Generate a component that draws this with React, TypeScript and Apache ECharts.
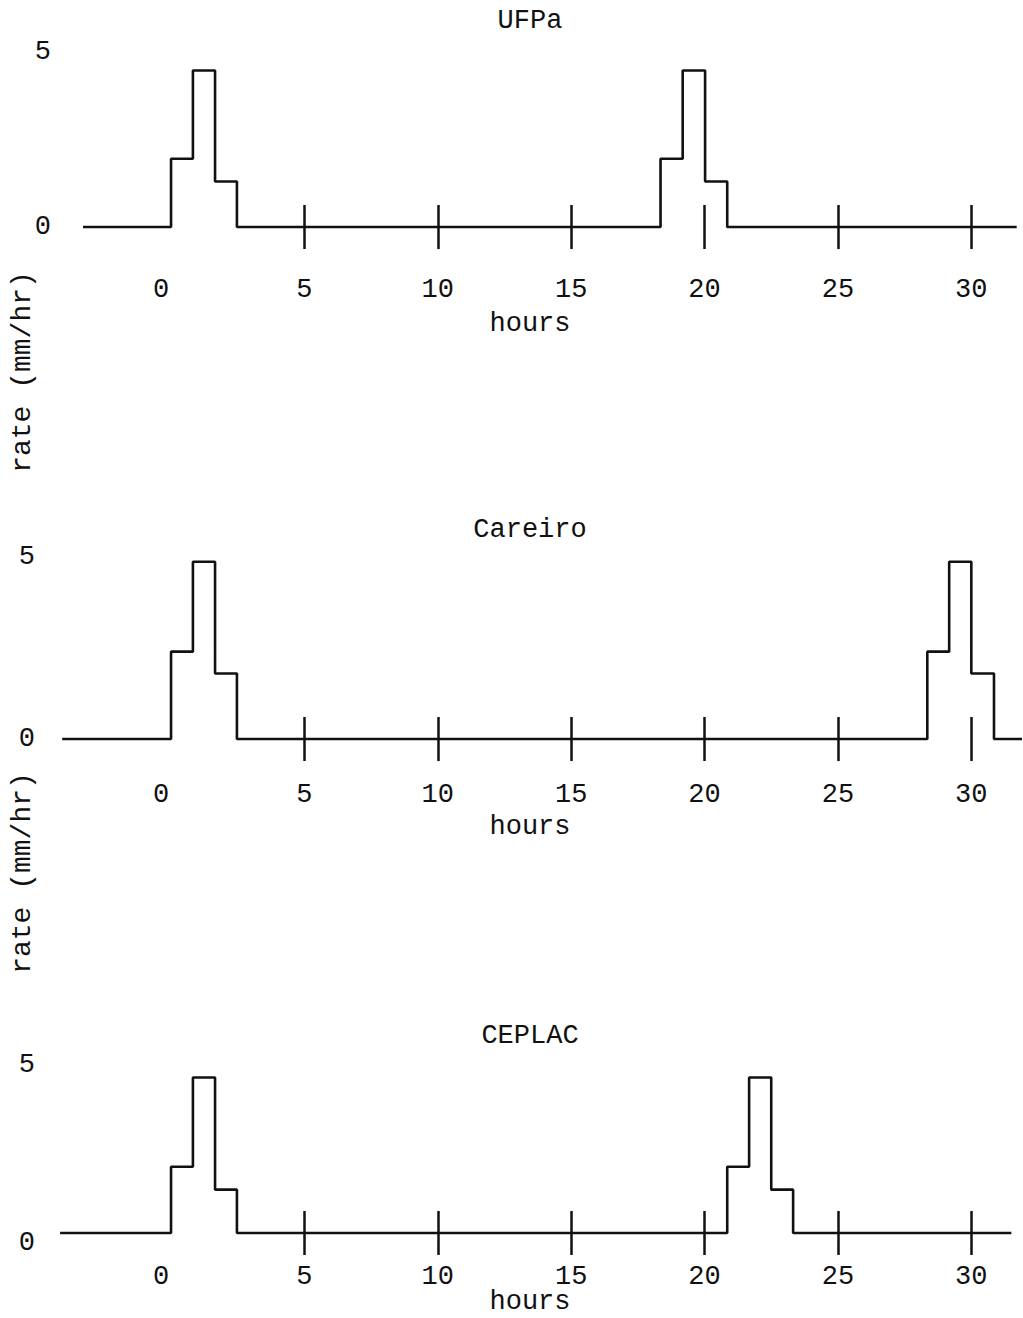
import React, { useEffect, useRef } from "react";
import * as echarts from "echarts";

// ---- data ----
const panelTitles = ["UFPa", "Careiro", "CEPLAC"];

const hoursUFPa = [-3.3, 0, 0.82, 1.65, 2.47, 18.35, 19.18, 20.02, 20.85, 31.7];
const rateUFPa = [0, 1.95, 4.47, 1.3, 0, 1.95, 4.47, 1.3, 0, 0];

const hoursCareiro = [-4.08, 0, 0.82, 1.65, 2.47, 28.35, 29.17, 30.0, 30.85, 31.9];
const rateCareiro = [0, 2.4, 4.87, 1.8, 0, 2.4, 4.87, 1.8, 0, 0];

const hoursCEPLAC = [-4.16, 0, 0.82, 1.65, 2.47, 20.85, 21.67, 22.5, 23.32, 31.5];
const rateCEPLAC = [0, 1.97, 4.63, 1.29, 0, 1.97, 4.63, 1.29, 0, 0];

const xTickValues = [5, 10, 15, 20, 25, 30];
const xLabelValues = [0, 5, 10, 15, 20, 25, 30];
const yLabelValues = [0, 5];

const xAxisName = "hours";
const yAxisName = "rate (mm/hr)";

// ---- layout / style ----
const FONT = "'Liberation Mono', 'Courier New', monospace";
const FS = 27;
const INK = "#111";
const X_MIN = -4.2;
const X_MAX = 31.9;
const GRID_LEFT = 59;
const GRID_WIDTH = 963;

const panels = [
  { hours: hoursUFPa, rate: rateUFPa, top: 52, bottom: 227, yMargin: 8, xMargin: 49, titleY: 21, hoursY: 324, zeroShift: 0 },
  { hours: hoursCareiro, rate: rateCareiro, top: 557, bottom: 739, yMargin: 24, xMargin: 42, titleY: 530, hoursY: 827, zeroShift: 0 },
  { hours: hoursCEPLAC, rate: rateCEPLAC, top: 1065, bottom: 1233, yMargin: 24, xMargin: 30, titleY: 1036, hoursY: 1302, zeroShift: 20 },
];

const rateLabelCenters = [372, 873];

function buildOption() {
  const grid: any[] = [];
  const xAxis: any[] = [];
  const yAxis: any[] = [];
  const series: any[] = [];
  const graphic: any[] = [];

  panels.forEach((p, i) => {
    grid.push({ left: GRID_LEFT, width: GRID_WIDTH, top: p.top, height: p.bottom - p.top });

    // outward (downward) ticks + labels
    xAxis.push({
      gridIndex: i,
      type: "value",
      min: X_MIN,
      max: X_MAX,
      position: "bottom",
      axisLine: { show: false },
      splitLine: { show: false },
      axisTick: {
        show: true,
        customValues: xTickValues,
        length: 22,
        lineStyle: { color: INK, width: 2.5 },
      },
      axisLabel: {
        show: true,
        customValues: xLabelValues,
        margin: p.xMargin,
        color: INK,
        fontSize: FS,
        fontFamily: FONT,
        formatter: (v: number) => (v === 0 ? "{z|0}" : String(v)),
        rich: { z: { padding: [0, 20, 0, 0], fontSize: FS, fontFamily: FONT, color: INK } },
      },
    });
    // inward (upward) ticks
    xAxis.push({
      gridIndex: i,
      type: "value",
      min: X_MIN,
      max: X_MAX,
      position: "bottom",
      axisLine: { show: false },
      splitLine: { show: false },
      axisLabel: { show: false },
      axisTick: {
        show: true,
        inside: true,
        customValues: xTickValues,
        length: 22,
        lineStyle: { color: INK, width: 2.5 },
      },
    });

    yAxis.push({
      gridIndex: i,
      type: "value",
      min: 0,
      max: 5,
      axisLine: { show: false },
      axisTick: { show: false },
      splitLine: { show: false },
      axisLabel: {
        customValues: yLabelValues,
        margin: p.yMargin,
        color: INK,
        fontSize: FS,
        fontFamily: FONT,
        formatter: (v: number) => (v === 0 && p.zeroShift ? "{d|0}" : String(v)),
        rich: { d: { padding: [p.zeroShift, 0, 0, 0], fontSize: FS, fontFamily: FONT, color: INK } },
      },
    });

    series.push({
      type: "line",
      name: panelTitles[i],
      xAxisIndex: 2 * i,
      yAxisIndex: i,
      step: "end",
      symbol: "none",
      clip: false,
      lineStyle: { color: INK, width: 2.6 },
      data: p.hours.map((h, j) => [h, p.rate[j]]),
    });

    graphic.push({
      type: "text",
      x: 530,
      y: p.titleY,
      style: { text: panelTitles[i], fill: INK, fontSize: FS, fontFamily: FONT, align: "center", verticalAlign: "middle" },
    });
    graphic.push({
      type: "text",
      x: 530,
      y: p.hoursY,
      style: { text: xAxisName, fill: INK, fontSize: FS, fontFamily: FONT, align: "center", verticalAlign: "middle" },
    });
  });

  rateLabelCenters.forEach((cy) => {
    graphic.push({
      type: "text",
      x: 22,
      y: cy,
      rotation: Math.PI / 2,
      style: { text: yAxisName, fill: INK, fontSize: 28, fontFamily: FONT, align: "center", verticalAlign: "middle" },
    });
  });

  return { animation: false, backgroundColor: "#fff", grid, xAxis, yAxis, series, graphic };
}

export default function App() {
  const ref = useRef<HTMLDivElement>(null);
  useEffect(() => {
    if (!ref.current) return;
    const chart = echarts.init(ref.current, undefined, { renderer: "svg" });
    chart.setOption(buildOption());
    return () => chart.dispose();
  }, []);
  return (
    <div
      ref={ref}
      style={{ position: "fixed", left: 0, top: 0, width: 1023, height: 1318, background: "#fff" }}
    />
  );
}
